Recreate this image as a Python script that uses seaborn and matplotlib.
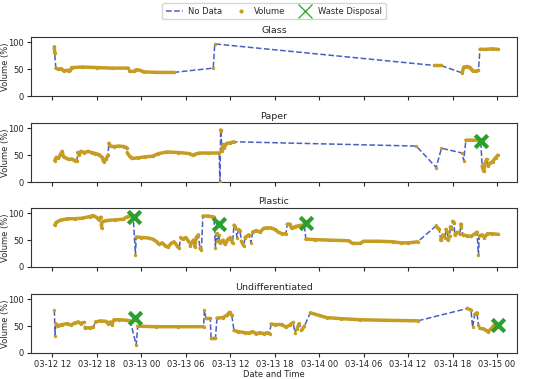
import numpy as np
import pandas as pd
import matplotlib
matplotlib.use("Agg")
import matplotlib.pyplot as plt
import matplotlib.dates as mdates
from matplotlib.lines import Line2D
import seaborn as sns

# ---------------- data (hours after 2021-03-12 12:00) ----------------
bins = ["Glass", "Paper", "Plastic", "Undifferentiated"]

glass_hours = [0.25, 0.3,
               0.45, 0.8, 1.2, 1.5, 2.0, 2.2, 2.4, 2.6, 4.0, 6.0, 8.0, 10.2,
               10.4, 11.0, 11.3, 11.8, 12.3, 14.0, 16.4,
               21.7,
               21.9, 22.0,
               51.5, 52.4,
               55.3, 55.5, 56.0, 56.4, 56.7, 57.2, 57.5,
               57.7, 58.5, 59.3, 60.1]
glass_values = [92, 80,
                52, 50, 51, 47, 48, 46, 49, 53, 54, 53, 52, 52,
                46, 46, 49, 48, 45, 44, 44,
                52,
                97, 97,
                57, 57,
                43, 54, 55, 53, 47, 46, 48,
                87, 87, 88, 87]
glass_seg = [0, 0,
             1, 1, 1, 1, 1, 1, 1, 1, 1, 1, 1, 1,
             2, 2, 2, 2, 2, 2, 2,
             3,
             4, 4,
             5, 5,
             6, 6, 6, 6, 6, 6, 6,
             7, 7, 7, 7]

paper_hours = [0.3, 0.5, 0.8, 1.1, 1.3, 1.5, 1.8, 2.2, 2.6, 3.0, 3.3,
               3.4, 3.6, 3.8, 4.3, 4.8, 5.3, 5.8, 6.3, 6.7, 6.9, 7.2, 7.5,
               7.6, 7.8, 8.3, 9.0, 9.7, 10.0,
               10.1, 10.4, 10.7, 11.5, 12.5, 13.5, 14.3, 15.5, 17.0, 18.5, 18.9, 19.3, 19.8, 21.0, 22.5,
               22.6,
               22.7, 22.75,
               22.85, 23.0, 23.2, 23.5, 24.0, 24.5,
               49.1, 51.8, 52.5, 55.3, 55.5,
               55.8, 57.3, 57.8,
               58.0, 58.2, 58.4, 58.6,
               58.8, 59.0, 59.4, 59.8, 60.1]
paper_values = [40, 46, 44, 52, 57, 47, 45, 42, 43, 40, 40,
                55, 50, 57, 55, 57, 55, 53, 51, 46, 38, 42, 50,
                72, 67, 66, 67, 66, 64,
                55, 48, 44, 45, 47, 48, 53, 56, 55, 53, 50, 52, 54, 54, 54,
                0,
                97, 95,
                58, 70, 64, 72, 73, 75,
                67, 27, 63, 54, 40,
                78, 78, 77,
                30, 20, 35, 42,
                30, 35, 38, 45, 50]
paper_seg = [0] * 11 + [1] * 12 + [2] * 6 + [3] * 15 + [4] + [5] * 2 + [6] * 6 + \
            [7, 8, 9, 10, 11] + [12] * 3 + [13] * 4 + [14] * 5

plastic_hours = [0.3, 0.5, 1.0, 2.0, 3.0, 4.0, 5.0, 5.5, 6.0, 6.3, 6.5,
                 6.6, 6.65,
                 6.8, 7.5, 8.5, 9.5, 10.0, 10.5, 10.9,
                 11.2,
                 11.3, 12.0, 13.0, 13.5, 14.0, 14.4, 14.8, 15.2, 15.6, 16.0, 16.4, 16.8, 17.1,
                 17.3, 17.6, 18.0, 18.4,
                 18.6, 19.0,
                 19.2, 19.4, 19.7,
                 19.9, 20.1,
                 20.3, 21.0, 21.5, 21.8,
                 22.0, 22.05, 22.15, 22.25, 22.35, 22.45,
                 22.6, 23.0, 23.3, 23.7, 24.0, 24.3,
                 24.5, 24.7,
                 24.9,
                 25.1, 25.3,
                 25.5, 25.8,
                 26.0, 26.5,
                 26.8,
                 27.0, 27.5, 28.0, 28.5, 29.0, 29.5, 30.0, 30.5, 31.0, 31.5,
                 31.7, 32.0, 32.3, 32.7, 33.2, 33.7, 34.0,
                 34.2, 35.5, 37.5, 40.0, 40.5, 41.5, 42.0, 44.0, 46.0, 47.0, 48.0, 49.3,
                 51.8, 52.0, 52.2,
                 52.4, 52.7, 53.0,
                 53.1, 53.3,
                 53.4, 53.6,
                 53.7, 53.9,
                 54.0, 54.2,
                 54.3, 54.6, 55.0,
                 55.1, 55.2,
                 55.4, 56.0, 56.5, 57.0, 57.3,
                 57.5,
                 57.6, 58.0, 58.3, 58.7, 59.3, 60.1]
plastic_values = [78, 83, 87, 90, 90, 91, 94, 96, 92, 88, 93,
                  80, 73,
                  85, 87, 88, 89, 93, 96, 93,
                  22,
                  56, 55, 54, 52, 48, 42, 45, 40, 37, 44, 47, 40, 35,
                  55, 52, 55, 47,
                  40, 50,
                  38, 55, 60,
                  35, 32,
                  95, 95, 94, 93,
                  35, 62, 48, 63, 50, 60,
                  45, 50, 42, 52, 55, 45,
                  78, 75,
                  55,
                  70, 68,
                  48, 40,
                  55, 60,
                  45,
                  65, 68, 65, 72, 73, 73, 70, 65, 62, 62,
                  80, 80, 72, 75, 77, 78, 77,
                  52, 51, 50, 49, 44, 44, 48, 48, 47, 45, 45, 47,
                  77, 72, 70,
                  50, 60, 55,
                  70, 65,
                  50, 58,
                  75, 70,
                  85, 82,
                  60, 65, 62,
                  80, 75,
                  60, 58, 57, 62, 65,
                  22,
                  58, 60, 55, 62, 62, 61]
plastic_seg = [0] * 11 + [1] * 2 + [2] * 7 + [3] + [4] * 13 + [5] * 4 + [6] * 2 + \
              [7] * 3 + [8] * 2 + [9] * 4 + [10, 11, 12, 13, 14, 15] + [16] * 6 + \
              [17] * 2 + [18] + [19] * 2 + [20] * 2 + [21] * 2 + [22] + [23] * 10 + \
              [24] * 7 + [25] * 12 + [26] * 3 + [27] * 3 + [28] * 2 + [29] * 2 + \
              [30] * 2 + [31] * 2 + [32] * 3 + [33] * 2 + [34] * 5 + [35] + [36] * 6

undiff_hours = [0.25,
                0.35,
                0.45, 0.7, 1.0, 1.3, 2.0, 2.5, 3.0, 3.5, 3.8, 4.2,
                4.4, 5.0, 5.5,
                5.8, 6.5, 7.2, 7.5, 7.8, 8.0, 8.3, 9.0, 10.0, 10.5,
                11.3,
                11.5, 14.0, 17.0, 20.4,
                20.5,
                20.7, 21.3,
                21.4, 22.0,
                22.2, 23.0, 23.5, 23.9, 24.2,
                24.5, 25.0, 26.0, 26.5, 27.0, 27.5, 28.0, 28.5, 29.0, 29.3,
                29.5, 30.0, 31.0, 31.5, 32.0, 32.5,
                32.7,
                33.0, 33.3,
                33.6, 34.0,
                34.8, 36.0, 37.0, 39.0, 41.5, 45.0, 49.3,
                56.0, 56.5,
                56.7,
                57.0, 57.3,
                57.5,
                57.7, 58.2, 58.5, 58.8, 59.2, 59.6]
undiff_values = [80,
                 32,
                 55, 50, 52, 53, 55, 52, 56, 58, 55, 57,
                 47, 47, 48,
                 58, 60, 59, 55, 58, 53, 62, 62, 61, 60,
                 15,
                 50, 49, 49, 49,
                 80,
                 65, 65,
                 28, 28,
                 65, 66, 70, 76, 70,
                 42, 40, 38, 37, 40, 36, 38, 36, 38, 36,
                 54, 53, 53, 48, 52, 57,
                 38,
                 45, 55,
                 42, 50,
                 75, 70, 66, 64, 62, 61, 60,
                 83, 80,
                 48,
                 72, 75,
                 52,
                 46, 45, 42, 40, 45, 52]
undiff_seg = [0, 1] + [2] * 10 + [3] * 3 + [4] * 10 + [5] + [6] * 4 + [7] + [8] * 2 + \
             [9] * 2 + [10] * 5 + [11] * 10 + [12] * 6 + [13] + [14] * 2 + [15] * 2 + \
             [16] * 7 + [17] * 2 + [18] + [19] * 2 + [20] + [21] * 6

disposal_bin = ["Paper", "Plastic", "Plastic", "Plastic", "Undifferentiated", "Undifferentiated"]
disposal_hours = [57.8, 11.0, 22.5, 34.2, 11.2, 60.1]
disposal_values = [76, 93, 80, 82, 65, 53]

# ---------------- assemble ----------------
base = pd.Timestamp("2021-03-12 12:00")
def to_time(h):
    return base + pd.to_timedelta(np.asarray(h, dtype=float), unit="h")

series = {
    "Glass": (glass_hours, glass_values, glass_seg),
    "Paper": (paper_hours, paper_values, paper_seg),
    "Plastic": (plastic_hours, plastic_values, plastic_seg),
    "Undifferentiated": (undiff_hours, undiff_values, undiff_seg),
}
disp = pd.DataFrame({"bin": disposal_bin, "time": to_time(disposal_hours),
                     "value": disposal_values})

sns.set_theme(style="ticks")
plt.rcParams["font.family"] = ["DejaVu Sans"]
FS = 6.0
plt.rcParams["xtick.labelsize"] = FS
plt.rcParams["ytick.labelsize"] = FS

BLUE = "#4a5fc1"
ORANGE = "#c59d22"
GREEN = "#2ca02c"

fig = plt.figure(figsize=(5.5, 3.79), dpi=100)
W, H = 550.0, 379.0
left, right = 31, 517
tops = [37, 123, 208, 294]
hgt = 59
axes = []
for i, t in enumerate(tops):
    ax = fig.add_axes([left / W, 1 - (t + hgt) / H, (right - left) / W, hgt / H],
                      sharex=axes[0] if axes else None)
    axes.append(ax)

for ax, name in zip(axes, bins):
    h, v, s = series[name]
    df = pd.DataFrame({"time": to_time(h), "value": v, "seg": s})
    sns.lineplot(data=df, x="time", y="value", ax=ax, sort=False, estimator=None,
                 color=BLUE, linestyle="--", linewidth=1.1, zorder=2)
    sns.lineplot(data=df, x="time", y="value", units="seg", ax=ax, sort=False,
                 estimator=None, color=ORANGE, linewidth=2.5, zorder=3)
    sns.scatterplot(data=df, x="time", y="value", ax=ax, color=ORANGE, s=6,
                    linewidth=0, zorder=4)
    d = disp[disp["bin"] == name]
    if len(d):
        sns.scatterplot(data=d, x="time", y="value", ax=ax, marker="x", s=80,
                        linewidth=3, color=GREEN, zorder=5)
    ax.set_title(name, fontsize=6.8, pad=3)
    ax.set_ylim(0, 110)
    ax.set_yticks([0, 50, 100])
    ax.set_ylabel("Volume (%)", fontsize=FS)
    ax.yaxis.set_label_coords(-21.0 / (right - left), 0.5)
    ax.set_xlabel("")
    for sp in ax.spines.values():
        sp.set_visible(True)
        sp.set_color("#333333")
        sp.set_linewidth(0.8)
    ax.tick_params(length=3, width=0.8, pad=2)

axes[0].set_xlim(to_time([-2.9])[0], to_time([62.7])[0])
axes[-1].xaxis.set_major_locator(mdates.HourLocator(byhour=[0, 6, 12, 18]))
axes[-1].xaxis.set_major_formatter(mdates.DateFormatter("%m-%d %H"))
for ax in axes[:-1]:
    ax.tick_params(labelbottom=False)
axes[-1].set_xlabel("Date and Time", fontsize=FS, labelpad=1)

handles = [Line2D([], [], color=BLUE, linestyle="--", linewidth=1.1),
           Line2D([], [], color=ORANGE, marker="o", markersize=2, linestyle="none"),
           Line2D([], [], color=GREEN, marker="x", markersize=10, markeredgewidth=0.9,
                  linestyle="none")]
fig.legend(handles, ["No Data", "Volume", "Waste Disposal"], loc="upper center",
           bbox_to_anchor=((left + right) / 2 / W, 1.0), ncol=3, fontsize=FS,
           frameon=True, handlelength=2.0, columnspacing=1.3, borderpad=0.45,
           handletextpad=0.6, borderaxespad=0.35)

fig.savefig("out.png", dpi=100)
